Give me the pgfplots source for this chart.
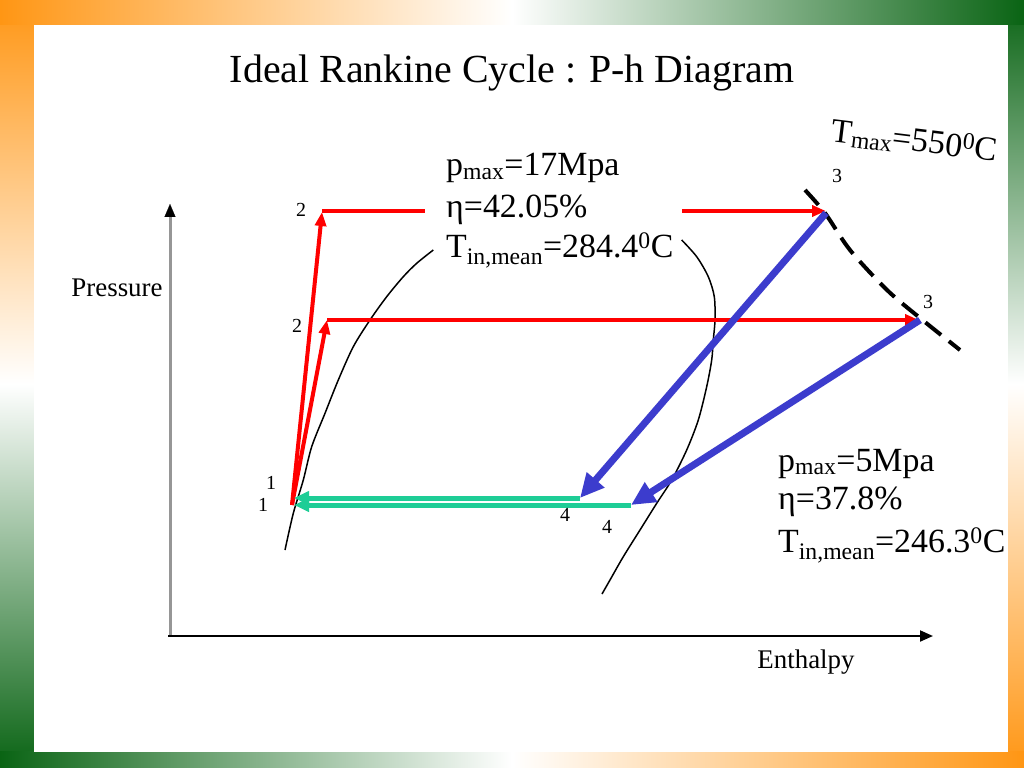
\documentclass[border=0pt]{standalone}
\usepackage{fontspec}
\setmainfont{Liberation Serif}
\usepackage{pgfplots}
\pgfplotsset{compat=1.18}
\usetikzlibrary{arrows.meta}
\definecolor{ora}{RGB}{255,150,20}
\definecolor{grn}{RGB}{10,100,20}
\definecolor{cred}{RGB}{255,0,0}
\definecolor{cblue}{RGB}{60,60,205}
\definecolor{cgreen}{RGB}{30,205,150}
\definecolor{axgray}{RGB}{150,150,150}
\newcommand{\fs}[1]{\fontsize{#1}{#1}\selectfont}
\begin{document}
\begin{tikzpicture}
% slide frame
\fill[white] (0,0) rectangle (1024bp,768bp);
\shade[top color=ora, bottom color=grn, middle color=white] (0,0) rectangle (34bp,768bp);
\shade[top color=grn, bottom color=ora, middle color=white] (1008bp,0) rectangle (1024bp,768bp);
\shade[left color=ora, right color=grn, middle color=white] (0,743bp) rectangle (1024bp,768bp);
\shade[left color=grn, right color=ora, middle color=white] (0,0) rectangle (1024bp,16bp);
\fill[white] (34bp,16bp) rectangle (1008bp,743bp);
\begin{axis}[width=1024bp,height=768bp,scale only axis,
  xmin=0,xmax=1024,ymin=0,ymax=768,y dir=reverse,hide axis,clip=false]
% axes of the sketch
\addplot[axgray, line width=3bp, forget plot] coordinates {(170,636) (170,214)};
\addplot[black, line width=0.1bp, -{Triangle[length=13bp,width=11bp]}] coordinates {(170,216) (170,204)};
\addplot[black, line width=2bp, -{Triangle[length=13bp,width=11bp]}] coordinates {(168,636) (933,636)};
% saturation dome
\addplot[black, line width=1.5bp, smooth] coordinates {
 (285,550) (293.3,513.3) (303.3,480) (311.7,446.7) (325,413.3) (338.3,380)
 (353.3,346.7) (370,320) (386.7,296.7) (403.3,276.7) (416.7,263.3) (433.3,250)};
\addplot[black, line width=1.5bp, smooth] coordinates {
 (681.7,240) (696.7,256.7) (708.3,276.7) (714.3,296.7) (715,320) (713.3,340)
 (711.7,360) (706.7,386.7) (698.3,420) (686.7,450) (671.7,480) (656.7,503.3)
 (640,530) (623.3,556.7) (610,580) (602,594)};
% Tmax isotherm
\addplot[black, line width=4bp, dash pattern=on 20bp off 10bp, smooth] coordinates {
 (805,190) (825,213) (850,250) (887,290) (920,318) (960,350)};
% red: pump and boiler
\addplot[cred, line width=4bp, -{Triangle[length=14bp,width=11bp]}] coordinates {(292,505) (322,212)};
\addplot[cred, line width=4bp, -{Triangle[length=14bp,width=11bp]}] coordinates {(292,505) (327,320)};
\addplot[cred, line width=4bp] coordinates {(322,211) (425,211)};
\addplot[cred, line width=4bp, -{Triangle[length=14bp,width=11bp]}] coordinates {(682,211) (826,211)};
\addplot[cred, line width=4bp, -{Triangle[length=14bp,width=11bp]}] coordinates {(327,320) (919,320)};
% blue: turbine
\addplot[cblue, line width=7bp, -{Triangle[length=24bp,width=22bp]}] coordinates {(826,213) (580,498)};
\addplot[cblue, line width=7bp, -{Triangle[length=24bp,width=22bp]}] coordinates {(920,320) (631,505)};
% green: condenser
\addplot[cgreen, line width=5bp, -{Triangle[length=15bp,width=13bp]}] coordinates {(580,498) (294,498)};
\addplot[cgreen, line width=5bp, -{Triangle[length=15bp,width=13bp]}] coordinates {(631,505) (294,505)};
% texts
\node[anchor=base] at (512,83) {\fs{40}Ideal Rankine Cycle : P-h Diagram};
\node[anchor=base] at (117,296) {\fs{27}Pressure};
\node[anchor=base] at (806,668) {\fs{27}Enthalpy};
\node[anchor=base west, inner sep=0] at (446,176) {\fs{34}p\textsubscript{max}=17Mpa};
\node[anchor=base west, inner sep=0] at (446,217) {\fs{34}η=42.05\%};
\node[anchor=base west, inner sep=0] at (446,257) {\fs{34}T\textsubscript{in,mean}=284.4\textsuperscript{0}C};
\node[anchor=base west, inner sep=0] at (778,471) {\fs{34}p\textsubscript{max}=5Mpa};
\node[anchor=base west, inner sep=0] at (778,509) {\fs{34}η=37.8\%};
\node[anchor=base west, inner sep=0] at (778,552) {\fs{34}T\textsubscript{in,mean}=246.3\textsuperscript{0}C};
\node[anchor=base west, inner sep=0, rotate=-7] at (830,141) {\fs{34}T\textsubscript{max}=550\textsuperscript{0}C};
\node at (301,210) {\fs{20}2};
\node at (297,326) {\fs{20}2};
\node at (271,483) {\fs{20}1};
\node at (263,505) {\fs{20}1};
\node at (565,515) {\fs{20}4};
\node at (607,527) {\fs{20}4};
\node at (837,176) {\fs{20}3};
\node at (928,302) {\fs{20}3};
\end{axis}
\end{tikzpicture}
\end{document}
